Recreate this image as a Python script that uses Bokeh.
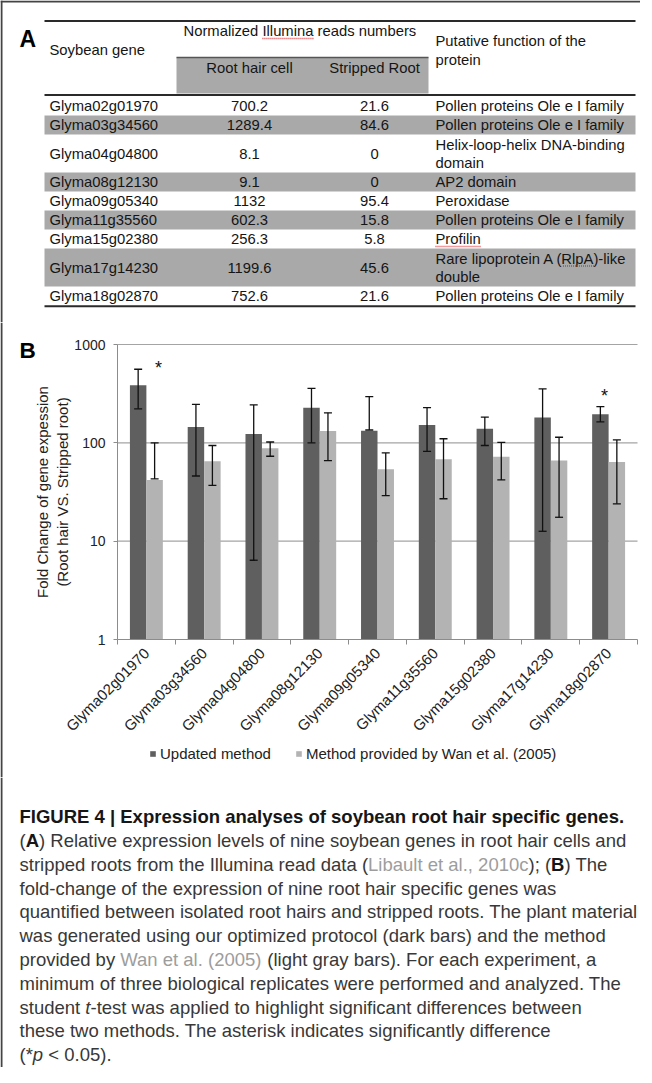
import math
from bokeh.plotting import figure
from bokeh.layouts import column
from bokeh.models import (Range1d, ColumnDataSource, Whisker, TeeHead, FixedTicker,
                          LinearAxis, LogAxis, Legend, LegendItem, Label, NumeralTickFormatter)
from bokeh.core.properties import value
from bokeh.embed import file_html
from bokeh.resources import INLINE

# ---------------- data ----------------
genes = ["Glyma02g01970", "Glyma03g34560", "Glyma04g04800", "Glyma08g12130", "Glyma09g05340",
         "Glyma11g35560", "Glyma15g02380", "Glyma17g14230", "Glyma18g02870"]
root_hair_reads = ["700.2", "1289.4", "8.1", "9.1", "1132", "602.3", "256.3", "1199.6", "752.6"]
stripped_reads = ["21.6", "84.6", "0", "0", "95.4", "15.8", "5.8", "45.6", "21.6"]
functions = ["Pollen proteins Ole e I family", "Pollen proteins Ole e I family",
             "Helix-loop-helix DNA-binding\ndomain", "AP2 domain", "Peroxidase",
             "Pollen proteins Ole e I family", "Profilin",
             "Rare lipoprotein A (RlpA)-like\ndouble", "Pollen proteins Ole e I family"]
spellcheck_words = [("header", "Illumina"), (6, "Profilin"), (7, "RlpA")]

updated_fc = [385, 145, 123, 228, 133, 152, 139, 181, 195]
updated_hi = [560, 246, 243, 358, 295, 228, 183, 353, 233]
updated_lo = [222, 46, 6.4, 100, 135, 82, 94, 12.6, 163]
wan_fc = [42, 65, 88, 132, 54, 68, 72, 66, 64]
wan_hi = [100, 94, 102, 202, 79, 110, 101, 114, 107]
wan_lo = [43, 37, 73, 66, 29, 27, 42, 17.5, 24]
y_ticks = [1, 10, 100, 1000]
significant = ["Glyma02g01970", "Glyma18g02870"]
star_over = ["wan", "updated"]
star_level = [577, 299]

series_names = ["Updated method", "Method provided by Wan et al. (2005)"]

caption_heading = "FIGURE 4 | Expression analyses of soybean root hair specific genes."
caption_lines = [
    [("(", "n"), ("A", "b"), (") Relative expression levels of nine soybean genes in root hair cells and", "n")],
    [("stripped roots from the Illumina read data (", "n"), ("Libault et al., 2010c", "g"), ("); (", "n"), ("B", "b"), (") The", "n")],
    [("fold-change of the expression of nine root hair specific genes was", "n")],
    [("quantified between isolated root hairs and stripped roots. The plant material", "n")],
    [("was generated using our optimized protocol (dark bars) and the method", "n")],
    [("provided by ", "n"), ("Wan et al. (2005)", "g"), (" (light gray bars). For each experiment, a", "n")],
    [("minimum of three biological replicates were performed and analyzed. The", "n")],
    [("student ", "n"), ("t", "i"), ("-test was applied to highlight significant differences between", "n")],
    [("these two methods. The asterisk indicates significantly difference", "n")],
    [("(*", "n"), ("p", "i"), (" < 0.05).", "n")],
]

# ---------------- text metrics (Arial / Liberation Sans) ----------------
_REG = ([278, 278, 355, 556, 556, 889, 667, 191, 333, 333, 389, 584, 278, 333, 278, 278] + [556] * 10 +
        [278, 278, 584, 584, 584, 556, 1015,
         667, 667, 722, 722, 667, 611, 778, 722, 278, 500, 667, 556, 833, 722, 778, 667, 778, 722, 667, 611,
         722, 667, 944, 667, 667, 611,
         278, 278, 278, 469, 556, 333,
         556, 556, 500, 556, 556, 278, 556, 556, 222, 222, 500, 222, 833, 556, 556, 556, 556, 333, 500, 278,
         556, 500, 722, 500, 500, 500,
         334, 260, 334, 584])
_BOLD = ([278, 333, 474, 556, 556, 889, 722, 238, 333, 333, 389, 584, 278, 333, 278, 278] + [556] * 10 +
         [333, 333, 584, 584, 584, 611, 975,
          722, 722, 722, 722, 667, 611, 778, 722, 278, 556, 722, 611, 833, 722, 778, 667, 778, 722, 667, 611,
          722, 667, 944, 667, 667, 611,
          333, 278, 333, 584, 556, 333,
          556, 611, 556, 611, 556, 333, 611, 611, 278, 278, 556, 278, 889, 611, 611, 611, 611, 389, 556, 333,
          611, 556, 778, 556, 556, 500,
          389, 280, 389, 584])


def text_width(s, size, bold=False):
    t = _BOLD if bold else _REG
    return sum(t[ord(c) - 32] if 32 <= ord(c) <= 126 else 556 for c in s) * size / 1000.0


FONT = "Liberation Sans"
W = 640                      # width of each stacked figure (page x 8 .. 648)
PX0 = 8                      # page x of figures' left edge
PY1, PY2, PY3, PY4 = 8, 330, 785, 1075   # page y boundaries of the three stacked figures
H1, H2, H3 = PY2 - PY1, PY3 - PY2, PY4 - PY3
BORDER_COL = "#444444"
BORDER_W = 2

# ---------------- panel A : table ----------------
p1 = figure(width=W, height=H1, x_range=Range1d(0, W), y_range=Range1d(H1, 0),
            output_backend="svg", toolbar_location=None, min_border=0,
            x_axis_location=None, y_axis_location=None, outline_line_color=None)
for g in p1.grid:
    g.visible = False


def ax(px):
    return px - PX0


def ay(py):
    return py - PY1


TFS = 14.8
tfs = value("%.1fpx" % TFS)
TCOL = "#151515"
GRAY = "#a9a9a9"
RULE_L, RULE_R = ax(52), ax(643)
X_GENE, X_RH, X_SR, X_FN = ax(57), ax(257), ax(382), ax(443)
ROW_TOP = ay(104)
UNIT = 19.0
LINE_STEP = 18.0

# page frame (left and top edges)
p1.quad(left=[0, 0], right=[BORDER_W, W], top=[0, 0], bottom=[H1, BORDER_W],
        fill_color=BORDER_COL, line_color=None)

n_lines = [f.count("\n") + 1 for f in functions]
tops, bottoms = [], []
y = ROW_TOP
for n in n_lines:
    tops.append(y)
    y += UNIT * n
    bottoms.append(y)
centers = [(a + b) / 2 for a, b in zip(tops, bottoms)]

gi = [i for i in range(len(genes)) if i % 2 == 1]
p1.quad(left=[RULE_L] * len(gi), right=[RULE_R] * len(gi),
        top=[tops[i] for i in gi], bottom=[bottoms[i] for i in gi],
        fill_color=GRAY, line_color=None)
p1.quad(left=[ax(184)], right=[ax(436)], top=[ay(65)], bottom=[ay(101)],
        fill_color=GRAY, line_color=None)
p1.segment(x0=[ax(184)], y0=[ay(65)], x1=[ax(436)], y1=[ay(65)], line_color="#555", line_width=1.3)

rule_y = [ay(28.5), ay(102.5), bottoms[-1] + 0.8]
p1.segment(x0=[RULE_L] * 3, y0=rule_y, x1=[RULE_R] * 3, y1=rule_y, line_color="#2a2a2a", line_width=2)

p1.text(x=[ax(27)], y=[ay(46)], text=["A"], text_font=value(FONT), text_font_size=value("23px"),
        text_font_style="bold", text_baseline="alphabetic", text_align="left", text_color="#000")

hdr_norm = "Normalized Illumina reads numbers"
p1.text(x=[X_GENE, ax(191), X_FN, X_FN], y=[ay(57), ay(38.5), ay(48), ay(67)],
        text=["Soybean gene", hdr_norm, "Putative function of the", "protein"],
        text_font=value(FONT), text_font_size=tfs, text_baseline="middle", text_align="left", text_color=TCOL)
p1.text(x=[X_RH, X_SR], y=[ay(75), ay(75)], text=["Root hair cell", "Stripped Root"],
        text_font=value(FONT), text_font_size=tfs, text_baseline="middle", text_align="center", text_color=TCOL)

p1.text(x=[X_GENE] * len(genes), y=centers, text=genes, text_font=value(FONT), text_font_size=tfs,
        text_baseline="middle", text_align="left", text_color=TCOL)
p1.text(x=[X_RH] * len(genes), y=centers, text=root_hair_reads, text_font=value(FONT), text_font_size=tfs,
        text_baseline="middle", text_align="center", text_color=TCOL)
p1.text(x=[X_SR] * len(genes), y=centers, text=stripped_reads, text_font=value(FONT), text_font_size=tfs,
        text_baseline="middle", text_align="center", text_color=TCOL)
fx, fy, ft = [], [], []
line_pos = {}
for i, f in enumerate(functions):
    parts = f.split("\n")
    for k, part in enumerate(parts):
        yy = centers[i] + (k - (len(parts) - 1) / 2) * LINE_STEP
        fx.append(X_FN)
        fy.append(yy)
        ft.append(part)
        line_pos.setdefault(i, []).append((part, yy))
p1.text(x=fx, y=fy, text=ft, text_font=value(FONT), text_font_size=tfs,
        text_baseline="middle", text_align="left", text_color=TCOL)

sx0, sx1, sy = [], [], []
for where, word in spellcheck_words:
    if where == "header":
        start = ax(191) + text_width(hdr_norm[:hdr_norm.index(word)], TFS)
        yy = ay(38.5)
    else:
        for part, yy in line_pos[where]:
            if word in part:
                start = X_FN + text_width(part[:part.index(word)], TFS)
                break
    sx0.append(start)
    sx1.append(start + text_width(word, TFS))
    sy.append(yy + 7.5)
p1.segment(x0=sx0, y0=sy, x1=sx1, y1=sy, line_color="#e2363c", line_width=1.3, line_dash="1 1")

# ---------------- panel B : bar chart ----------------
FR_L, FR_R, FR_T, FR_B = 125, 645, 352, 647     # page position of the plotting area
n_g = len(genes)
STEP = (FR_R - FR_L) / n_g
DEC = (FR_B - FR_T) / 3.0
x_rng = Range1d((PX0 - FR_L) / STEP, (PX0 + W - FR_L) / STEP)
y_rng = Range1d(10 ** (-(PY3 - FR_B) / DEC), 10 ** (3 + (FR_T - PY2) / DEC))

p2 = figure(width=W, height=H2, x_range=x_rng, y_range=y_rng, y_axis_type="log",
            output_backend="svg", toolbar_location=None, x_axis_location=None, y_axis_location=None,
            min_border=0, outline_line_color=None)
for g in p2.grid:
    g.visible = False

p2.quad(left=[x_rng.start], right=[x_rng.start + BORDER_W / STEP], bottom=[y_rng.start], top=[y_rng.end],
        fill_color=BORDER_COL, line_color=None)

grid_vals = y_ticks[1:]
p2.segment(x0=[0] * len(grid_vals), y0=grid_vals, x1=[n_g] * len(grid_vals), y1=grid_vals,
           line_color="#a4a4a4", line_width=1.2)

BW = 0.285
OFF = BW / 2
slot_center = [i + 0.5 for i in range(n_g)]
src = ColumnDataSource(dict(gene=genes,
                            x_up=[c - OFF for c in slot_center], x_wan=[c + OFF for c in slot_center],
                            updated=updated_fc, updated_hi=updated_hi, updated_lo=updated_lo,
                            wan=wan_fc, wan_hi=wan_hi, wan_lo=wan_lo))
DARK, LIGHT = "#5f5f5f", "#b3b3b3"

r_dark = p2.vbar(x="x_up", top="updated", bottom=1, width=BW, fill_color=DARK, line_color=None, source=src)
r_light = p2.vbar(x="x_wan", top="wan", bottom=1, width=BW, fill_color=LIGHT, line_color=None, source=src)

for base, hi, lo in [("x_up", "updated_hi", "updated_lo"), ("x_wan", "wan_hi", "wan_lo")]:
    wk = Whisker(base=base, upper=hi, lower=lo, source=src,
                 line_color="#111", line_width=1.3, level="annotation",
                 upper_head=TeeHead(size=8, line_color="#111", line_width=1.3),
                 lower_head=TeeHead(size=8, line_color="#111", line_width=1.3))
    p2.add_layout(wk)

sxs = []
for gname, over in zip(significant, star_over):
    c = slot_center[genes.index(gname)]
    sxs.append(c + OFF if over == "wan" else c - OFF)
p2.text(x=sxs, y=star_level, text=["*"] * len(sxs), x_offset=4,
        text_font=value(FONT), text_font_size=value("18px"), text_align="center",
        text_baseline="alphabetic", text_color="#111")

ya = LogAxis(fixed_location=0, bounds=(y_ticks[0], y_ticks[-1]), ticker=FixedTicker(ticks=y_ticks),
             formatter=NumeralTickFormatter(format="0"),
             axis_line_color="#8c8c8c", major_tick_line_color="#8c8c8c", major_tick_out=4, major_tick_in=0,
             minor_tick_line_color=None, major_label_standoff=8, major_label_text_font=FONT,
             major_label_text_font_size="14px", major_label_text_color="#222",
             axis_label="Fold Change of gene expession\n(Root hair VS. Stripped root)",
             axis_label_text_font=FONT, axis_label_text_font_size="15px",
             axis_label_text_font_style="normal", axis_label_text_color="#222", axis_label_standoff=0)
p2.add_layout(ya, "left")

xa = LinearAxis(fixed_location=1, bounds=(0, n_g),
                ticker=FixedTicker(ticks=slot_center, minor_ticks=list(range(n_g + 1))),
                major_label_overrides={c: g for c, g in zip(slot_center, genes)},
                major_label_orientation=math.pi / 4,
                axis_line_color="#8c8c8c", major_tick_line_color=None, major_tick_out=0, major_tick_in=0,
                minor_tick_line_color="#8c8c8c", minor_tick_out=5, minor_tick_in=0,
                major_label_standoff=6, major_label_text_font=FONT,
                major_label_text_font_size="15px", major_label_text_color="#222")
p2.add_layout(xa, "below")

legend = Legend(items=[LegendItem(label=series_names[0], renderers=[r_dark]),
                       LegendItem(label=series_names[1], renderers=[r_light])],
                orientation="horizontal", location=(157 - PX0, PY3 - 769.5),
                border_line_color=None, background_fill_alpha=0, padding=0, margin=0,
                spacing=24, label_standoff=4, glyph_width=7, glyph_height=7, label_height=7,
                label_text_font=FONT, label_text_font_size="15px", label_text_color="#222")
p2.add_layout(legend)

p2.add_layout(Label(x=(27 - FR_L) / STEP, y=10 ** (3 - (358 - FR_T) / DEC), text="B",
                    text_font=FONT, text_font_size="22.5px", text_font_style="bold",
                    text_align="left", text_baseline="alphabetic", text_color="#000"))

# ---------------- caption ----------------
p3 = figure(width=W, height=H3, x_range=Range1d(0, W), y_range=Range1d(H3, 0),
            output_backend="svg", toolbar_location=None, min_border=0,
            x_axis_location=None, y_axis_location=None, outline_line_color=None)
for g in p3.grid:
    g.visible = False
p3.quad(left=[0], right=[BORDER_W], top=[0], bottom=[H3], fill_color=BORDER_COL, line_color=None)

CFS = 18.5
CX = ax(27)
HEAD_Y = 824 - PY3
BODY_Y0 = 848 - PY3
LSTEP = 23.8
BODY_COL = "#383838"
CITE_COL = "#9d9d9d"

p3.text(x=[CX], y=[HEAD_Y], text=[caption_heading], text_font=value(FONT),
        text_font_size=value("%.1fpx" % CFS), text_font_style="bold", text_baseline="middle",
        text_align="left", text_color="#161616")

groups = {"n": ([], [], []), "b": ([], [], []), "i": ([], [], []), "g": ([], [], [])}
for li, segs in enumerate(caption_lines):
    x = CX
    yy = BODY_Y0 + li * LSTEP
    for txt, st in segs:
        bold = (st == "b")
        lead = len(txt) - len(txt.lstrip(" "))
        x += text_width(txt[:lead], CFS, bold)       # SVG drops leading blanks: advance instead
        body = txt[lead:]
        gx, gy, gt = groups[st]
        gx.append(x)
        gy.append(yy)
        gt.append(body)
        x += text_width(body, CFS, bold)
style_map = {"n": ("normal", BODY_COL), "b": ("bold", "#161616"), "i": ("italic", BODY_COL),
             "g": ("normal", CITE_COL)}
for st, (gx, gy, gt) in groups.items():
    if not gx:
        continue
    fs, col = style_map[st]
    p3.text(x=gx, y=gy, text=gt, text_font=value(FONT), text_font_size=value("%.1fpx" % CFS),
            text_font_style=fs, text_baseline="middle", text_align="left", text_color=col)

layout = column(p1, p2, p3, spacing=0)

open("out.html", "w").write(file_html(layout, INLINE))
